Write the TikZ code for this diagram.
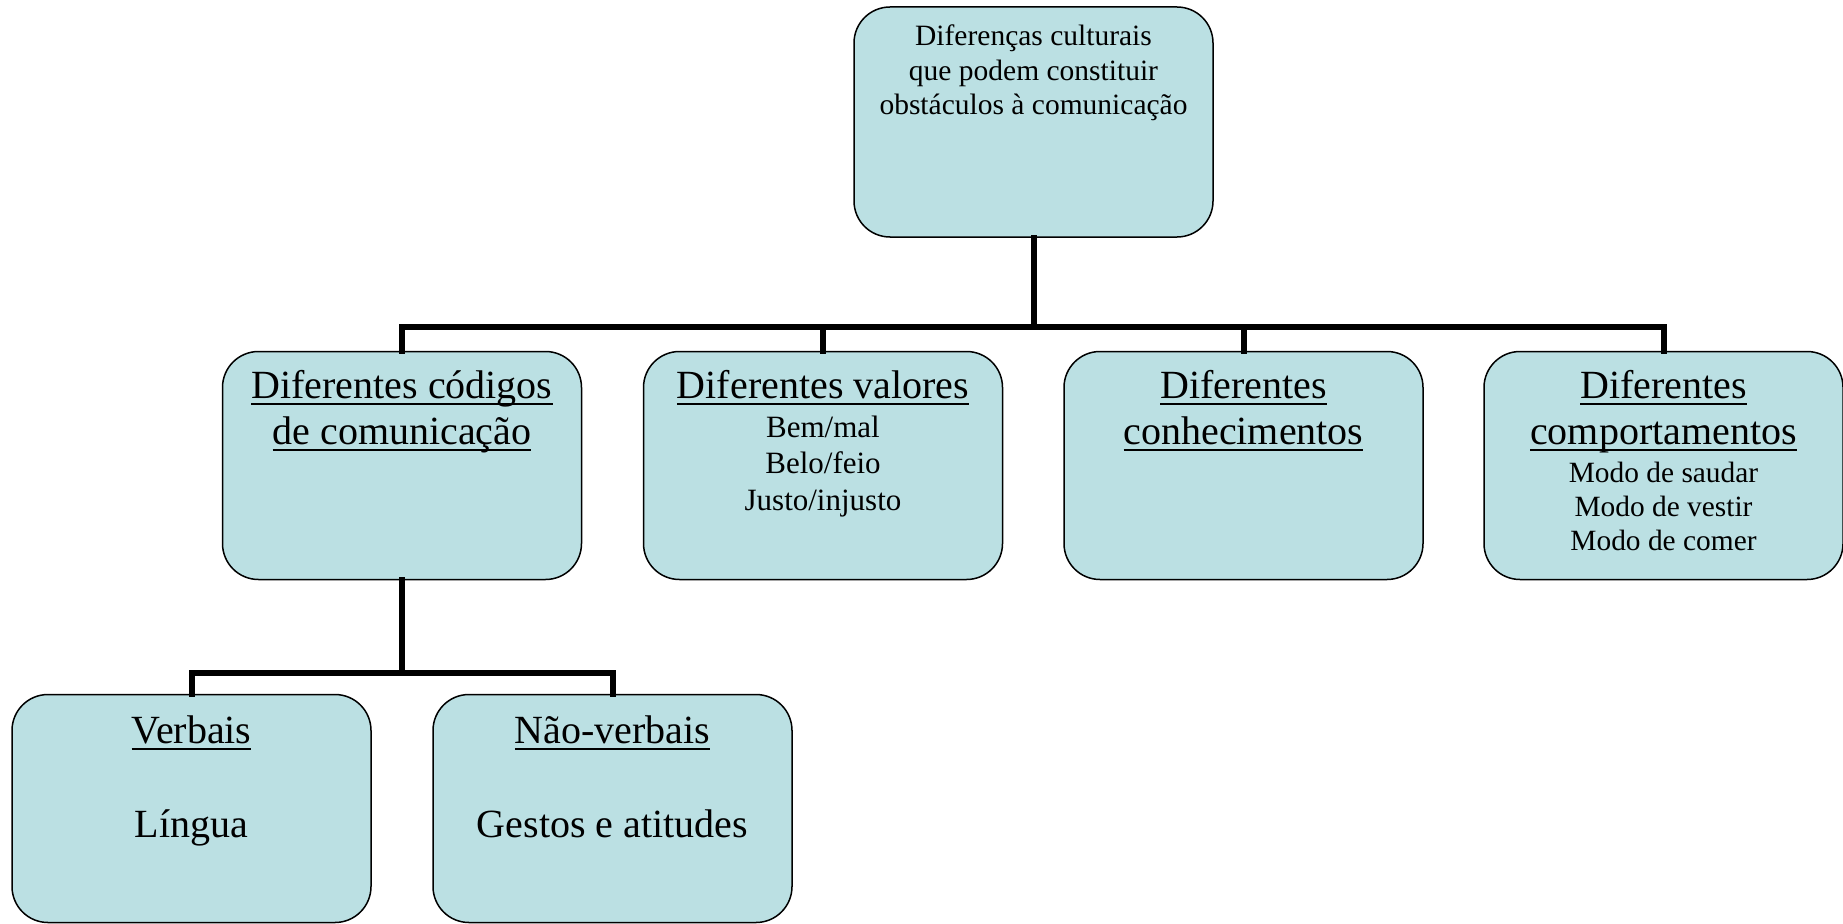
\documentclass[tikz,border=0pt]{standalone}
\usepackage{fontspec}
\setmainfont{Liberation Serif}
\definecolor{boxfill}{RGB}{187,224,227}
\newlength\myulw
\newcommand\myul[1]{\settowidth\myulw{#1}\rlap{\rule[-7pt]{\myulw}{1.9pt}}#1}
\newcommand\lines[3]{\fontsize{#1}{#2}\selectfont\begin{tabular}[t]{@{}c@{}}#3\end{tabular}}
\tikzset{
  box/.style={draw=black, line width=1.5pt, fill=boxfill, rounded corners=36pt,
    minimum width=359pt, minimum height=228pt, inner sep=0pt},
  conn/.style={line width=6pt, line cap=rect, line join=miter},
  txt/.style={anchor=base, inner sep=0pt}
}
\begin{document}
\begin{tikzpicture}[x=1pt,y=-1pt]
\useasboundingbox (0,0) rectangle (1843,923);
% boxes
\node[box, minimum height=230pt] (top) at (1033.5,122) {};
\node[box] (b1) at (402,465.5) {};
\node[box] (b2) at (823,465.5) {};
\node[box] (b3) at (1243.5,465.5) {};
\node[box] (b4) at (1663.5,465.5) {};
\node[box] (b5) at (191.5,808.5) {};
\node[box] (b6) at (612.5,808.5) {};
% connectors
\coordinate (bar) at (1033.5,327);
\coordinate (bar2) at (402,673);
\draw[conn] (top.south) -- (bar);
\draw[conn] (b1.north) -- (b1.north |- bar) -- (b4.north |- bar) -- (b4.north);
\draw[conn] (b2.north) -- (b2.north |- bar);
\draw[conn] (b3.north) -- (b3.north |- bar);
\draw[conn] (b1.south) -- (bar2);
\draw[conn] (b5.north) -- (b5.north |- bar2) -- (b6.north |- bar2) -- (b6.north);
% texts
\node[txt] (ttop) at (1033.5,46) {\lines{29.5}{34.3}{Diferenças culturais\\que podem constituir\\obstáculos à comunicação}};
\node[txt] (t1) at (402,398) {\lines{40}{46}{\myul{Diferentes códigos}\\\myul{de comunicação}}};
\node[txt] (t2) at (823,398) {\lines{40}{46}{\myul{Diferentes valores}}};
\node[txt] (t2s) at (823,437) {\lines{31}{36.5}{Bem/mal\\Belo/feio\\Justo/injusto}};
\node[txt] (t3) at (1243.5,398) {\lines{40}{46}{\myul{Diferentes}\\\myul{conhecimentos}}};
\node[txt] (t4) at (1663.5,398) {\lines{40}{46}{\myul{Diferentes}\\\myul{comportamentos}}};
\node[txt] (t4s) at (1663.5,482) {\lines{29.4}{34}{Modo de saudar\\Modo de vestir\\Modo de comer}};
\node[txt] (t5) at (191.5,743) {\lines{40}{46}{\myul{Verbais}}};
\node[txt] (t5s) at (191.5,837) {\lines{40}{46}{Língua}};
\node[txt] (t6) at (612.5,743) {\lines{40}{46}{\myul{Não-verbais}}};
\node[txt] (t6s) at (612.5,837) {\lines{40}{46}{Gestos e atitudes}};
\end{tikzpicture}
\end{document}
